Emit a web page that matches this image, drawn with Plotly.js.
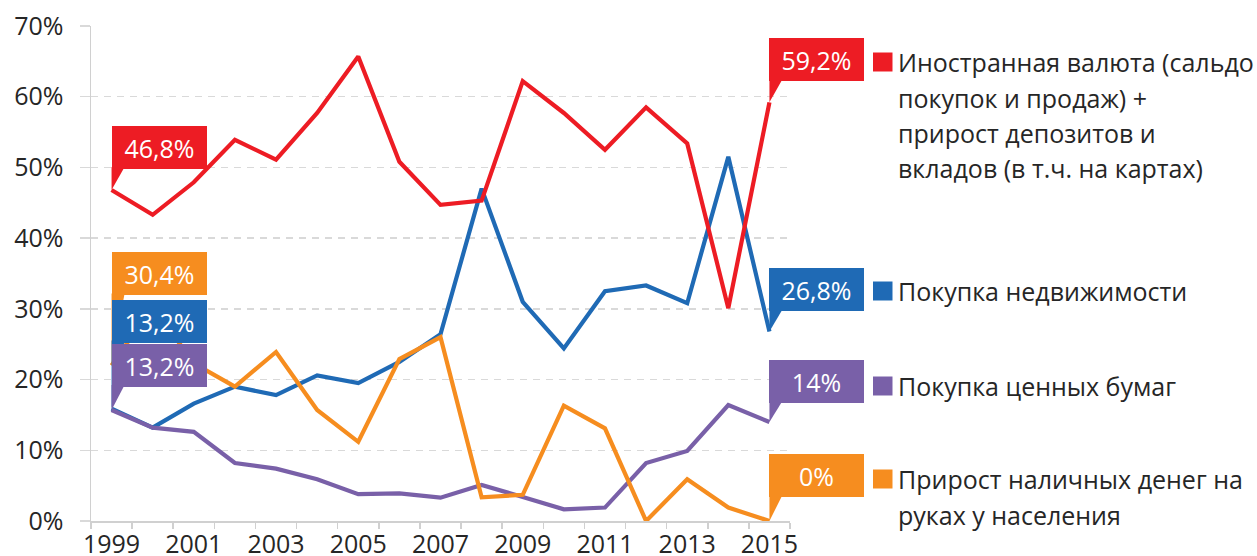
<!DOCTYPE html>
<html>
<head>
<meta charset="utf-8">
<script src="https://cdn.plot.ly/plotly-3.0.1.min.js"></script>
<style>
  html, body { margin: 0; padding: 0; background: #fff; }
  #chart { width: 1257px; height: 556px; }
</style>
</head>
<body>
<div id="chart"></div>
<script>
var years = [1999, 2000, 2001, 2002, 2003, 2004, 2005, 2006, 2007, 2008, 2009, 2010, 2011, 2012, 2013, 2014, 2015];
var yearLabels = [1999, 2001, 2003, 2005, 2007, 2009, 2011, 2013, 2015];

var currency   = [46.8, 43.3, 47.9, 53.9, 51.1, 57.7, 65.7, 50.8, 44.7, 45.3, 62.2, 57.7, 52.5, 58.5, 53.4, 30.1, 59.2];
var realty     = [15.9, 13.2, 16.6, 19.0, 17.8, 20.6, 19.5, 22.5, 26.4, 47.0, 31.0, 24.4, 32.5, 33.3, 30.8, 51.5, 26.8];
var securities = [15.7, 13.2, 12.6, 8.2, 7.4, 5.9, 3.8, 3.9, 3.3, 5.1, 3.4, 1.65, 1.9, 8.2, 9.9, 16.4, 14.0];
var cash       = [22.0, 30.4, 22.3, 19.0, 23.9, 15.7, 11.2, 22.9, 26.0, 3.35, 3.7, 16.3, 13.1, 0, 5.9, 1.9, 0];

var names = [
    ['Иностранная валюта (сальдо', 'покупок и продаж) +', 'прирост депозитов и', 'вкладов (в т.ч. на картах)'],
    ['Покупка недвижимости'],
    ['Покупка ценных бумаг'],
    ['Прирост наличных денег на', 'руках у населения']
];
var leftLabels  = ['46,8%', '13,2%', '13,2%', '30,4%'];
var rightLabels = ['59,2%', '26,8%', '14%', '0%'];

var RED = '#ED1C24', BLUE = '#1F6AB5', PURPLE = '#7960A8', ORANGE = '#F68D1F';
var FONT = 'Open Sans, Noto Sans, sans-serif';

// plot area in pixels
var L = 91, T = 26, W = 699, H = 495;
function px(x) { return (x - L) / W; }
function py(y) { return (T + H - y) / H; }

function line(y, color, name) {
    return {
        type: 'scatter', mode: 'lines', x: years, y: y, name: name,
        line: { color: color, width: 4.2 }, hoverinfo: 'x+y'
    };
}

var series = [
    { y: currency,   color: RED,    left: leftLabels[0],  right: rightLabels[0], lshift: 21, rshift: 21, legend: names[0], legY: 62 },
    { y: realty,     color: BLUE,   left: leftLabels[1],  right: rightLabels[1], lshift: 66, rshift: 20, legend: names[1], legY: 291 },
    { y: securities, color: PURPLE, left: leftLabels[2],  right: rightLabels[2], lshift: 23, rshift: 19, legend: names[2], legY: 386 },
    { y: cash,       color: ORANGE, left: leftLabels[3],  right: rightLabels[3], lshift: 70, rshift: 24, legend: names[3], legY: 479 }
];

var data = [
    line(realty, BLUE, names[1][0]),
    line(securities, PURPLE, names[2][0]),
    line(currency, RED, names[0][0]),
    line(cash, ORANGE, names[3][0])
];

var shapes = [];
var annotations = [];

function callout(s, i, text, shift) {
    var yr = years[i], val = s.y[i];
    shapes.push({
        type: 'path', layer: 'above', xref: 'x', yref: 'y',
        xsizemode: 'pixel', ysizemode: 'pixel', xanchor: yr, yanchor: val,
        path: 'M 0 0 L 0 ' + (shift + 2) + ' L 13 ' + (shift + 2) + ' Z',
        fillcolor: s.color, line: { width: 0 }
    });
    annotations.push({
        xref: 'x', yref: 'y', x: yr, y: val, xanchor: 'left', yanchor: 'bottom',
        yshift: shift, showarrow: false, text: text, width: 95, height: 43,
        bgcolor: s.color, borderpad: 0, borderwidth: 0,
        font: { family: FONT, size: 25, color: '#ffffff' }
    });
}

// left labels stacked: orange, blue, purple (drawn in that order), red separately
callout(series[0], 0, series[0].left, series[0].lshift);
callout(series[3], 0, series[3].left, series[3].lshift);
callout(series[1], 0, series[1].left, series[1].lshift);
callout(series[2], 0, series[2].left, series[2].lshift);
series.forEach(function (s) { callout(s, years.length - 1, s.right, s.rshift); });

// legend: squares + text lines
series.forEach(function (s) {
    shapes.push({
        type: 'rect', xref: 'paper', yref: 'paper',
        x0: px(873), x1: px(892.5), y0: py(s.legY - 9.5), y1: py(s.legY + 9.5),
        fillcolor: s.color, line: { width: 0 }
    });
    s.legend.forEach(function (t, k) {
        annotations.push({
            xref: 'paper', yref: 'paper', x: px(896), y: py(s.legY + k * 35.5),
            xanchor: 'left', yanchor: 'middle', showarrow: false, text: t,
            font: { family: FONT, size: 25, color: '#262626' }
        });
    });
});

var layout = {
    width: 1257, height: 556,
    margin: { l: L, r: 1257 - L - W, t: T, b: 556 - T - H },
    paper_bgcolor: '#ffffff', plot_bgcolor: '#ffffff',
    showlegend: false,
    font: { family: FONT, size: 25, color: '#262626' },
    xaxis: {
        range: [1998.5, 2015.5], tickmode: 'array', tickvals: yearLabels,
        ticktext: yearLabels.map(String), ticks: '', showgrid: false, zeroline: false,
        showline: true, linecolor: '#d0d0d0', linewidth: 1.5,
        tickfont: { family: FONT, size: 25, color: '#262626' },
        minor: { ticks: 'outside', ticklen: 6, tickwidth: 1.5, tickcolor: '#d0d0d0', dtick: 1, tick0: 1998.5, showgrid: false }
    },
    yaxis: {
        range: [0, 70], dtick: 10, ticksuffix: '%',
        showgrid: true, gridcolor: '#d9d9d9', gridwidth: 1.5, griddash: '7px,6px',
        zeroline: false, showline: true, linecolor: '#d0d0d0', linewidth: 1.5,
        ticks: 'outside', ticklen: 10, tickcolor: '#d9d9d9', tickwidth: 1.5,
        ticklabelstandoff: 11,
        tickfont: { family: FONT, size: 25, color: '#262626' }
    },
    shapes: shapes,
    annotations: annotations
};

Plotly.newPlot('chart', data, layout, { displayModeBar: false, staticPlot: true });
</script>
</body>
</html>
